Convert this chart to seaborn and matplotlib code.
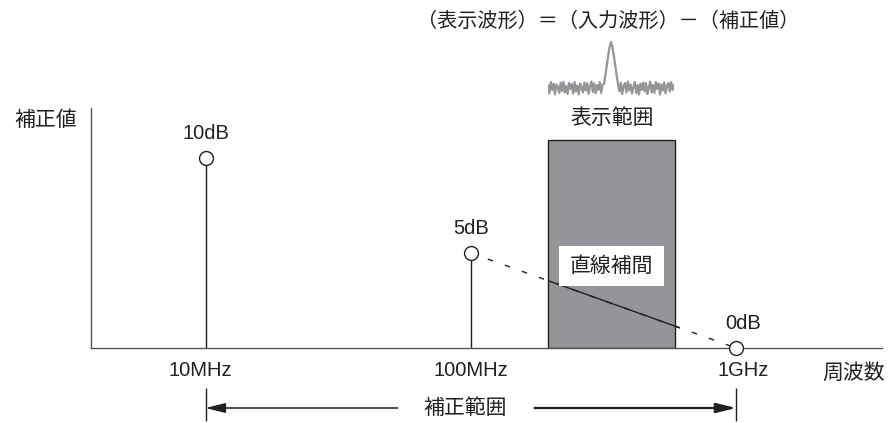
import numpy as np
import pandas as pd
import matplotlib
matplotlib.use("Agg")
import matplotlib.pyplot as plt
from matplotlib.patches import Rectangle
import seaborn as sns

# correction points (frequency in Hz, correction in dB)
freqs = [10e6, 100e6, 1e9]
corr_db = [10, 5, 0]
freq_labels = ["10MHz", "100MHz", "1GHz"]
db_labels = ["10dB", "5dB", "0dB"]

# display range (gray band)
disp_lo = 195e6
disp_hi = 590e6
disp_top = 10.95

# small sketch of the displayed waveform (noise, peak, noise)
noise_left = [0.6, -1.1, 1.2, -0.4, 0.9, -1.3, 0.7, 0.2, -1.0, 1.1, -0.6, 1.3, -0.9, 0.4,
              -1.2, 1.0, -0.2, 0.8, -1.1, 1.2, -0.7, 0.5, -1.3, 0.9, 0.0, -0.9, 1.1, -0.5,
              1.0, -1.2, 0.4, 1.3, -0.8, 0.9, -1.1, 0.6, -0.4, 1.2, -1.0, 0.7]
peak = [0.8, 2.6, 4.6, 6.6, 8.3, 9.3, 8.3, 6.6, 4.6, 2.6, 0.8]
noise_right = [-0.7, 1.1, -1.2, 0.4, 1.0, -0.9, 1.3, -0.5, 0.7, -1.1, 0.2, 1.2, -1.0, 0.6,
               -1.3, 0.9, -0.4, 1.1, -0.7, 1.0, -1.2, 0.0, 1.3, -0.9, 0.6, -1.0, 1.2, -0.2,
               0.9, -1.3, 0.7, -0.5, 1.1, -1.1, 0.4, 1.0, -0.7, 1.2, -0.4, 0.6]

INK = "#231f20"
GRAY = "#939598"
W, H = 890, 423

sns.set_style("white")
plt.rcParams["font.family"] = ["Liberation Sans", "Noto Sans CJK JP", "DejaVu Sans"]


def fig_text(fig, px, py, s, **kw):
    # place text in figure pixel coordinates (origin top-left)
    fig.text(px / W, 1 - py / H, s, ha="center", va="center", color=INK, **kw)


fig = plt.figure(figsize=(W / 100, H / 100), dpi=100)
ax = fig.add_axes([91 / W, 75 / H, 791 / W, 240 / H])
ax.set_xscale("log")
ax.set_xlim(3.7e6, 3.55e9)
ax.set_ylim(0, 12.63)
ax.set_xticks([])
ax.set_yticks([])
ax.minorticks_off()
for side in ["top", "right"]:
    ax.spines[side].set_visible(False)
for side in ["left", "bottom"]:
    ax.spines[side].set_color("#555555")
    ax.spines[side].set_linewidth(1.0)

# display range band
ax.add_patch(Rectangle((disp_lo, 0), disp_hi - disp_lo, disp_top,
                       facecolor=GRAY, edgecolor=INK, lw=1.0, zorder=1))

# stems for the correction points
ax.vlines(freqs, 0, corr_db, color=INK, lw=1.0, zorder=2)

# linear interpolation: dashed everywhere, solid inside the display range
df = pd.DataFrame({"freq": freqs[1:], "db": corr_db[1:]})
sns.lineplot(data=df, x="freq", y="db", ax=ax, color=INK, lw=1.0, sort=False, zorder=3)
ax.get_lines()[-1].set_dashes((4, 9))
sns.lineplot(data=df, x="freq", y="db", ax=ax, color=INK, lw=1.0, sort=False, zorder=3)
clip = Rectangle((disp_lo, -1), 615e6 - disp_lo, 20, transform=ax.transData)
ax.get_lines()[-1].set_clip_path(clip)

# correction point markers
pts = pd.DataFrame({"freq": freqs, "db": corr_db})
sns.scatterplot(data=pts, x="freq", y="db", ax=ax, s=100, facecolor="white",
                edgecolor=INK, linewidth=1.0, zorder=5, clip_on=False)
ax.set_xlabel("")
ax.set_ylabel("")

# dB labels above markers
x_offsets = [0, 0, 5]
for f, v, lab, dx in zip(freqs, corr_db, db_labels, x_offsets):
    ax.annotate(lab, (f, v), xytext=(dx, 17.5), textcoords="offset points",
                ha="center", va="center", fontsize=14.5, color=INK, annotation_clip=False)

# frequency labels below axis
x_offsets = [-4, 0, 5]
for f, lab, dx in zip(freqs, freq_labels, x_offsets):
    ax.annotate(lab, (f, 0), xytext=(dx, -16), textcoords="offset points",
                ha="center", va="center", fontsize=14.5, color=INK, annotation_clip=False)

# white label box inside the band
ax.annotate("直線補間", (np.sqrt(disp_lo * disp_hi), 4.3), ha="center", va="center",
            fontsize=15, color=INK, zorder=6,
            bbox=dict(boxstyle="square,pad=0.5", facecolor="white", edgecolor="none"))

# correction range arrow under the axis
xf = ax.get_xaxis_transform()
ax.vlines([freqs[0], freqs[-1]], -0.304, -0.167, transform=xf, color=INK, lw=1.0, clip_on=False)
ax.annotate("", xy=(freqs[0], -0.25), xytext=(53e6, -0.25),
            xycoords=("data", "axes fraction"), textcoords=("data", "axes fraction"),
            arrowprops=dict(arrowstyle="-|>,head_length=1.2,head_width=0.3", lw=1.1,
                            color=INK, shrinkA=0, shrinkB=0), annotation_clip=False)
ax.annotate("", xy=(freqs[-1], -0.25), xytext=(174e6, -0.25),
            xycoords=("data", "axes fraction"), textcoords=("data", "axes fraction"),
            arrowprops=dict(arrowstyle="-|>,head_length=1.2,head_width=0.3", lw=1.6,
                            color=INK, shrinkA=0, shrinkB=0), annotation_clip=False)

fig_text(fig, 465, 408, "補正範囲", fontsize=15)
fig_text(fig, 46, 120, "補正値", fontsize=15)
fig_text(fig, 854, 373, "周波数", fontsize=15)
fig_text(fig, 612, 118, "表示範囲", fontsize=15)
fig_text(fig, 608, 21, "（表示波形）＝（入力波形）－（補正値）", fontsize=14.5)

# waveform sketch above the band
wave = noise_left + peak + noise_right
wdf = pd.DataFrame({"i": np.arange(len(wave)), "v": wave})
wax = fig.add_axes([548 / W, (H - 98) / H, 126 / W, 63 / H])
sns.lineplot(data=wdf, x="i", y="v", ax=wax, color=GRAY, lw=1.6)
wax.set_xlim(0, len(wave) - 1)
wax.set_ylim(-2.02, 10.7)
wax.axis("off")

fig.savefig("out.png", dpi=100)
